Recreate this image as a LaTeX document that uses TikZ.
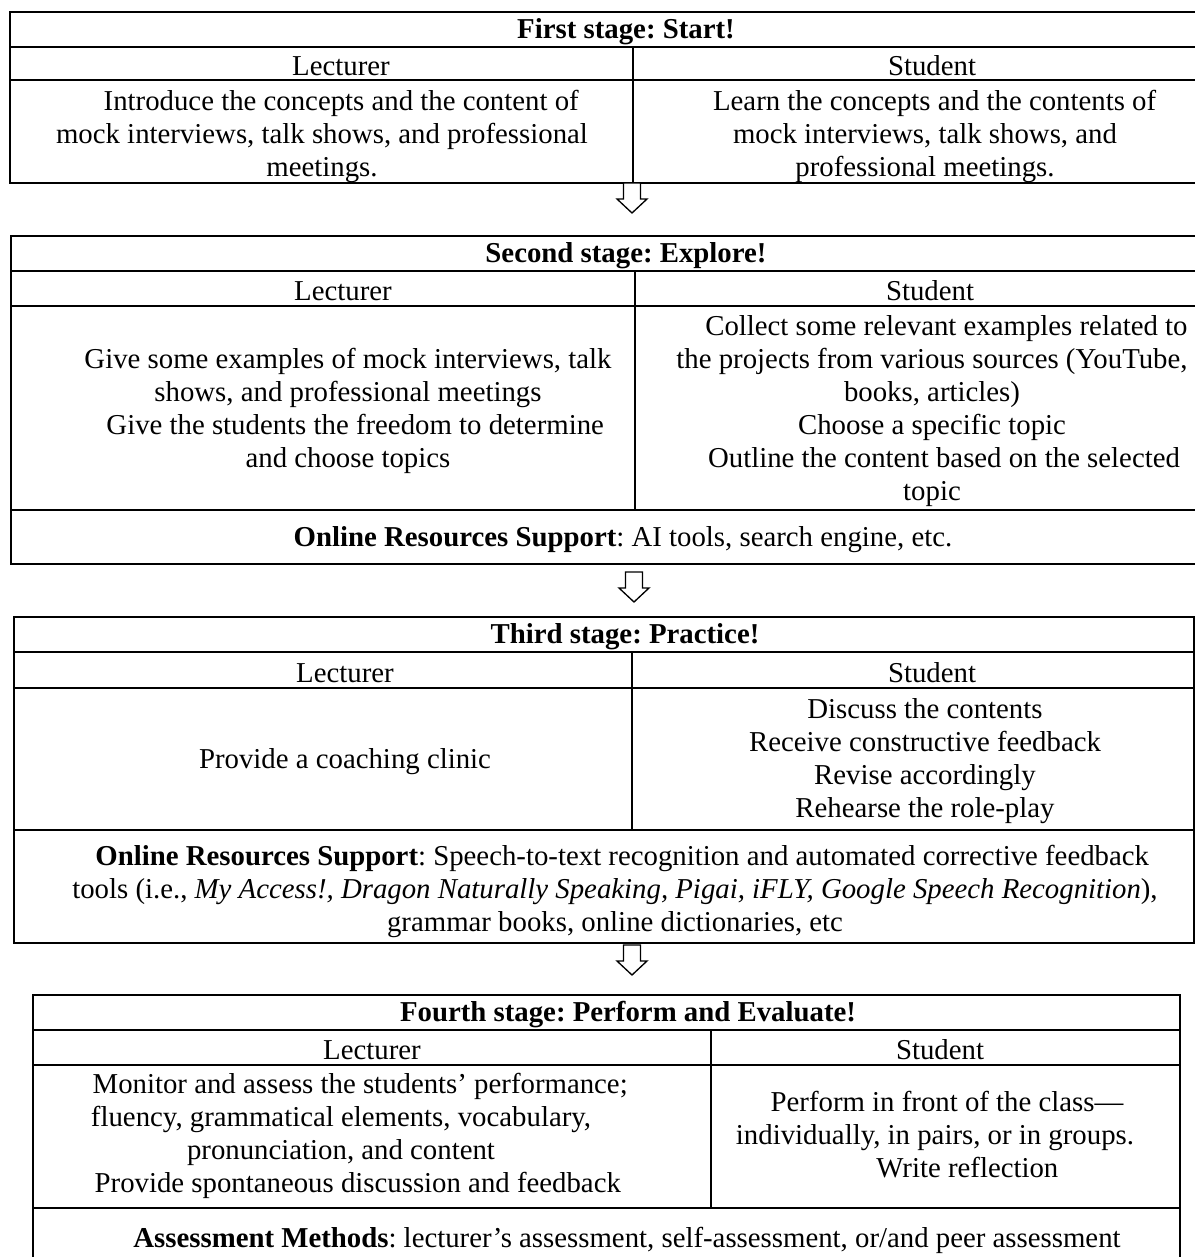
\documentclass[tikz,border=0pt]{standalone}
\usepackage{fontspec}
\setmainfont{Liberation Serif}
\frenchspacing
\tikzset{
	tabrule/.style={line width=0.8pt},
	cell/.style={align=center,inner sep=0pt,font=\fontsize{12}{13.75}\selectfont},
	stagehead/.style={cell,font=\fontsize{12}{13.75}\selectfont\bfseries},
	hollow/.style={line width=0.55pt,fill=white,line join=miter}
}
\newcommand{\stagearrow}[1]{\draw[hollow] (#1) ++(-8.5,0) -- ++(0,16) -- ++(-6.5,0) -- ++(15,14) -- ++(15,-14) -- ++(-6.5,0) -- ++(0,-16) -- cycle;}
\begin{document}
\begin{tikzpicture}[x=0.41667pt,y=-0.41667pt]
	\useasboundingbox (0,0) rectangle (1195,1257);
	\draw[tabrule] (10,12) rectangle (1198,183);
	\draw[tabrule] (10,47)--(1198,47) (10,80)--(1198,80) (633,47)--(633,183);
	\node[stagehead] (h1) at (626,32) {First stage: Start!};
	\node[cell] (l1) at (341,66) {Lecturer};
	\node[cell] (s1) at (932,66) {Student};
	\node[cell] (lc1) at (322,136) {\hspace*{16pt}Introduce the concepts and the content of\\mock interviews, talk shows, and professional\\meetings.};
	\node[cell] (sc1) at (925,136) {\hspace*{8pt}Learn the concepts and the contents of\\mock interviews, talk shows, and\\professional meetings.};
	\coordinate (a1) at (632,183);
	\stagearrow{a1}
	\draw[tabrule] (11,236) rectangle (1198,564);
	\draw[tabrule] (11,271)--(1198,271) (11,306)--(1198,306) (11,510)--(1198,510) (635,271)--(635,510);
	\node[stagehead] (h2) at (626,256) {Second stage: Explore!};
	\node[cell] (l2) at (343,291) {Lecturer};
	\node[cell] (s2) at (930,291) {Student};
	\node[cell] (lc2) at (348,411) {Give some examples of mock interviews, talk\\shows, and professional meetings\\\hspace*{6pt}Give the students the freedom to determine\\and choose topics};
	\node[cell] (sc2) at (932,411) {\hspace*{12pt}Collect some relevant examples related to\\the projects from various sources (YouTube,\\books, articles)\\Choose a specific topic\\\hspace*{10pt}Outline the content based on the selected\\topic};
	\node[cell] (o2) at (623,540) {\textbf{Online Resources Support}: AI tools, search engine, etc.};
	\coordinate (a2) at (634,572);
	\stagearrow{a2}
	\draw[tabrule] (14,617) rectangle (1194,943);
	\draw[tabrule] (14,652)--(1194,652) (14,688)--(1194,688) (14,830)--(1194,830) (632,652)--(632,830);
	\node[stagehead] (h3) at (625,637) {Third stage: Practice!};
	\node[cell] (l3) at (345,673) {Lecturer};
	\node[cell] (s3) at (932,673) {Student};
	\node[cell] (lc3) at (345,762) {Provide a coaching clinic};
	\node[cell] (sc3) at (925,761) {Discuss the contents\\Receive constructive feedback\\Revise accordingly\\Rehearse the role-play};
	\node[cell] (o3) at (615,891) {\hspace*{6pt}\textbf{Online Resources Support}: Speech-to-text recognition and automated corrective feedback\\tools (i.e., \textit{My Access!, Dragon Naturally Speaking, Pigai, iFLY, Google Speech Recognition}),\\grammar books, online dictionaries, etc};
	\coordinate (a3) at (632,945);
	\stagearrow{a3}
	\draw[tabrule] (33,1270)--(33,995)--(1180,995)--(1180,1270);
	\draw[tabrule] (33,1030)--(1180,1030) (33,1065)--(1180,1065) (33,1208)--(1180,1208) (711,1030)--(711,1208);
	\node[stagehead] (h4) at (628,1015) {Fourth stage: Perform and Evaluate!};
	\node[cell] (l4) at (372,1050) {Lecturer};
	\node[cell] (s4) at (940,1050) {Student};
	\node[cell] (lc4) at (341,1136) {\hspace*{16pt}Monitor and assess the students’ performance;\\fluency, grammatical elements, vocabulary,\\pronunciation, and content\\\hspace*{14pt}Provide spontaneous discussion and feedback};
	\node[cell] (sc4) at (947,1135) {Perform in front of the class—\\individually, in pairs, or in groups.\rule{10pt}{0pt}\\\hspace*{17pt}Write reflection};
	\node[cell] (m4) at (627,1240) {\textbf{Assessment Methods}: lecturer’s assessment, self-assessment, or/and peer assessment};
\end{tikzpicture}
\end{document}
